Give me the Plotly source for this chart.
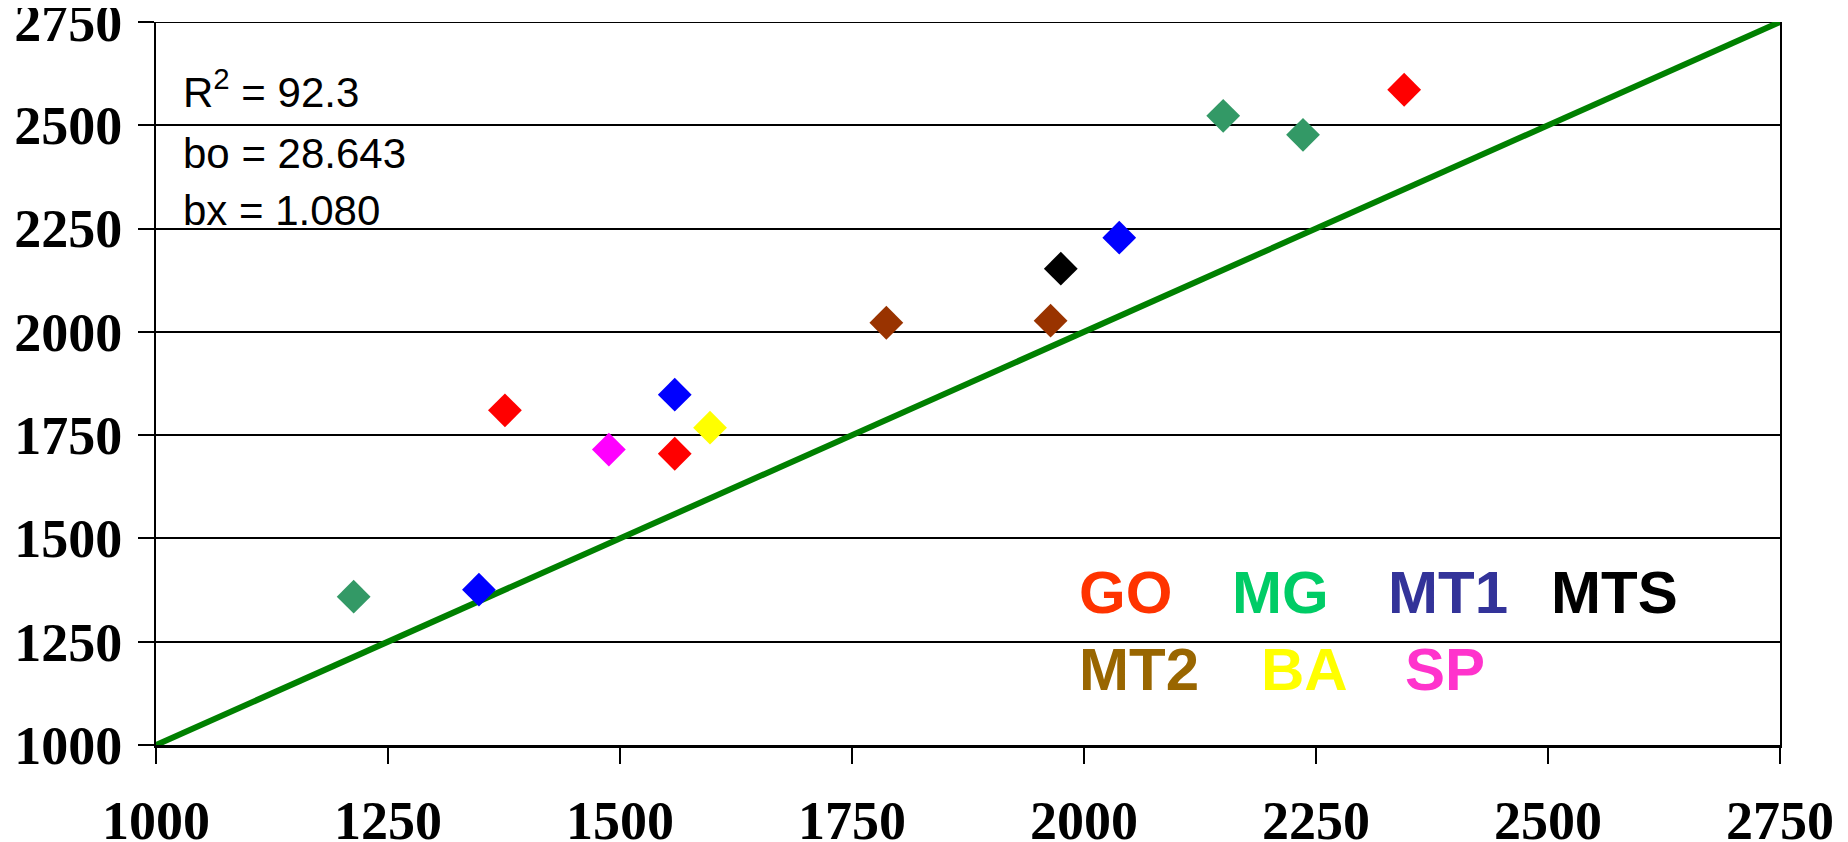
import plotly.graph_objects as go

# ---- data ----
tick_vals = [1000, 1250, 1500, 1750, 2000, 2250, 2500, 2750]
tick_text = ["1000", "1250", "1500", "1750", "2000", "2250", "2500", "2750"]

go_x = [1376, 1559, 2345]
go_y = [1810, 1705, 2586]
mg_x = [1213, 2150, 2236]
mg_y = [1359, 2523, 2477]
mt1_x = [1348, 1559, 2038]
mt1_y = [1376, 1848, 2228]
mts_x = [1975]
mts_y = [2153]
mt2_x = [1787, 1964]
mt2_y = [2022, 2027]
ba_x = [1597]
ba_y = [1768]
sp_x = [1488]
sp_y = [1715]

line_x = [1000, 2750]
line_y = [1000, 2750]

stats_lines = ["R<sup>2</sup> = 92.3", "bo = 28.643", "bx = 1.080"]

legend_row1 = ["GO", "MG", "MT1", "MTS"]
legend_row1_colors = ["#FF3300", "#00CC66", "#333399", "#000000"]
legend_row2 = ["MT2", "BA", "SP"]
legend_row2_colors = ["#996600", "#FFFF00", "#FF33CC"]

# ---- layout geometry (pixels) ----
OFF = 8  # page body margin
W, H = 1840, 834
L, R, T, B = 148, 68, 14, 97
PW = W - L - R
PH = H - T - B


def px_x(p):
    # p in page pixels
    return (p - OFF - L) / PW


def px_y(p):
    return (H - B - (p - OFF)) / PH


fig = go.Figure()

fig.add_trace(go.Scatter(x=line_x, y=line_y, mode="lines",
                         line=dict(color="#008000", width=6),
                         cliponaxis=False, showlegend=False, hoverinfo="skip"))

groups = [
    (go_x, go_y, "#FF0000"),
    (mg_x, mg_y, "#339966"),
    (mt1_x, mt1_y, "#0000FF"),
    (mts_x, mts_y, "#000000"),
    (mt2_x, mt2_y, "#993300"),
    (ba_x, ba_y, "#FFFF00"),
    (sp_x, sp_y, "#FF00FF"),
]
for gx, gy, col in groups:
    fig.add_trace(go.Scatter(x=gx, y=gy, mode="markers",
                             marker=dict(symbol="diamond", size=26, color=col,
                                         line=dict(width=0)),
                             cliponaxis=False, showlegend=False))

annotations = []
stat_y = [89, 153, 211]
for txt, yy in zip(stats_lines, stat_y):
    annotations.append(dict(text=txt, x=px_x(181), y=px_y(yy), xref="paper", yref="paper",
                            xanchor="left", yanchor="middle", showarrow=False,
                            font=dict(family="Arial, Liberation Sans", size=42, color="black")))

row1_x = [1077, 1230, 1386, 1549]
row2_x = [1077, 1259, 1403]
for txt, col, xx in zip(legend_row1, legend_row1_colors, row1_x):
    annotations.append(dict(text="<b>%s</b>" % txt, x=px_x(xx), y=px_y(592), xref="paper", yref="paper",
                            xanchor="left", yanchor="middle", showarrow=False,
                            font=dict(family="Arial, Liberation Sans", size=60, color=col)))
for txt, col, xx in zip(legend_row2, legend_row2_colors, row2_x):
    annotations.append(dict(text="<b>%s</b>" % txt, x=px_x(xx), y=px_y(669), xref="paper", yref="paper",
                            xanchor="left", yanchor="middle", showarrow=False,
                            font=dict(family="Arial, Liberation Sans", size=60, color=col)))

tickfont = dict(family="Times New Roman, Liberation Serif", size=54, color="black", weight="bold")

fig.update_layout(
    width=W, height=H,
    margin=dict(l=L, r=R, t=T, b=B, pad=0),
    paper_bgcolor="white", plot_bgcolor="white",
    showlegend=False,
    annotations=annotations,
    shapes=[dict(type="line", xref="paper", yref="y", x0=0, x1=1, y0=2750, y1=2750,
                 line=dict(color="black", width=2), layer="below")],
    xaxis=dict(range=[1000, 2750], tickvals=tick_vals, ticktext=tick_text,
               showgrid=False, zeroline=False, automargin=False,
               showline=True, linecolor="black", linewidth=3,
               ticks="outside", ticklen=16, tickwidth=2, tickcolor="black",
               ticklabelstandoff=10, ticklabeloverflow="allow", tickfont=tickfont),
    yaxis=dict(range=[1000, 2750], tickvals=tick_vals, ticktext=tick_text,
               showgrid=True, gridcolor="black", gridwidth=2, zeroline=False,
               automargin=False,
               showline=True, linecolor="black", linewidth=2, mirror=True,
               ticks="outside", ticklen=16, tickwidth=2, tickcolor="black",
               ticklabelstandoff=5, ticklabeloverflow="allow", tickfont=tickfont),
)

fig.write_html("out.html")
